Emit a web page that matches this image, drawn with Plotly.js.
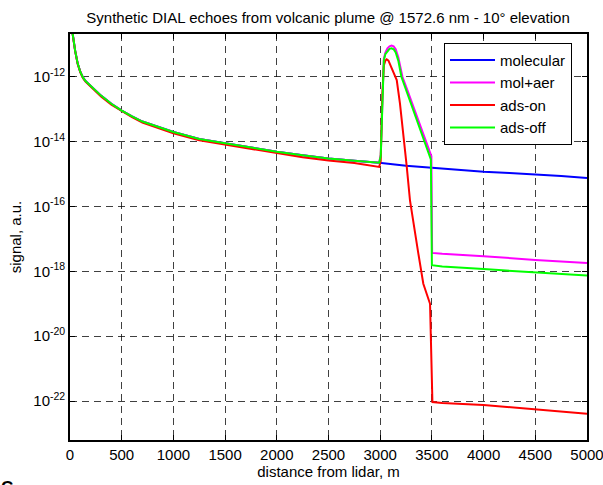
<!DOCTYPE html>
<html>
<head>
<meta charset="utf-8">
<script src="https://cdn.plot.ly/plotly-3.0.1.min.js"></script>
<style>html,body{margin:0;padding:0;background:#fff;overflow:hidden}#chart{width:603px;height:485px}</style>
</head>
<body>
<div id="chart"></div>
<script>
// Distances (m) and log10(signal)
const rNear = [15, 26, 50, 75, 100, 125, 150, 200, 250, 300, 400, 500, 600, 700, 1000, 1250, 1500, 1750, 2000, 2250, 2500, 2750, 2990];
const molNear = [-10.2, -10.68, -11.2, -11.6, -11.85, -12.02, -12.13, -12.29, -12.45, -12.58, -12.83, -13.04, -13.22, -13.38, -13.70, -13.92, -14.05, -14.19, -14.31, -14.42, -14.52, -14.59, -14.65];
const redNear = [-10.2, -10.69, -11.21, -11.61, -11.86, -12.04, -12.15, -12.31, -12.47, -12.61, -12.86, -13.06, -13.24, -13.41, -13.74, -13.96, -14.09, -14.24, -14.36, -14.48, -14.58, -14.66, -14.78];

const rMolFar = [3250, 3500, 3750, 4000, 4250, 4500, 4750, 5000];
const molFar = [-14.74, -14.81, -14.87, -14.93, -14.97, -15.01, -15.06, -15.12];

const rMagPlume = [3005, 3020, 3035, 3050, 3070, 3090, 3110, 3130, 3150, 3175, 3215, 3260, 3300, 3350, 3400, 3445, 3495, 3502, 3600, 4000, 4500, 5000];
const magPlume = [-14.4, -12.5, -11.45, -11.25, -11.12, -11.06, -11.04, -11.06, -11.15, -11.4, -12.0, -12.39, -12.74, -13.17, -13.61, -14.0, -14.45, -17.43, -17.46, -17.53, -17.65, -17.74];

const rOnPlume = [3005, 3020, 3035, 3050, 3063, 3080, 3100, 3127, 3160, 3191, 3220, 3256, 3288, 3330, 3369, 3417, 3482, 3505, 3600, 4000, 4500, 5000];
const onPlume = [-14.6, -12.6, -11.65, -11.5, -11.46, -11.5, -11.65, -11.9, -12.1, -12.82, -13.6, -14.75, -15.81, -16.7, -17.45, -18.38, -19.0, -22.03, -22.06, -22.12, -22.26, -22.39];

const rOffPlume = [3005, 3020, 3035, 3050, 3070, 3090, 3110, 3130, 3150, 3175, 3205, 3250, 3300, 3350, 3400, 3433, 3490, 3500, 3600, 4000, 4500, 5000];
const offPlume = [-14.45, -12.6, -11.5, -11.3, -11.2, -11.14, -11.12, -11.15, -11.25, -11.5, -12.0, -12.4, -12.85, -13.3, -13.72, -14.0, -14.55, -17.81, -17.85, -17.93, -18.04, -18.13];

const seriesNames = ['molecular', 'mol+aer', 'ads-on', 'ads-off'];
const seriesColors = ['#0000ff', '#ff00ff', '#ff0000', '#00ff00'];
const yTickExp = [-22, -20, -18, -16, -14, -12];
const xTicks = [0, 500, 1000, 1500, 2000, 2500, 3000, 3500, 4000, 4500, 5000];

const pw = v => v.map(e => Math.pow(10, e));

const xs = [
  rNear.concat(rMolFar),
  rNear.concat(rMagPlume),
  rNear.concat(rOnPlume),
  rNear.concat(rOffPlume)
];
const ys = [
  molNear.concat(molFar),
  molNear.concat(magPlume),
  redNear.concat(onPlume),
  molNear.concat(offPlume)
];

const font = 'Arial, "Liberation Sans", Helvetica, sans-serif';
const traces = seriesNames.map((n, i) => ({
  type: 'scatter', mode: 'lines', name: n,
  x: xs[i], y: pw(ys[i]),
  line: {color: seriesColors[i], width: 2}
}));

const gridDash = '7px,5px';
const layout = {
  width: 603, height: 485,
  margin: {l: 70, r: 16, t: 34, b: 45},
  paper_bgcolor: '#fff', plot_bgcolor: '#fff',
  font: {family: font, size: 15, color: '#000'},
  title: {text: 'Synthetic DIAL echoes from volcanic plume @ 1572.6 nm - 10° elevation',
          font: {family: font, size: 15, color: '#000'},
          x: 0.544, xanchor: 'center', y: 0.963, yanchor: 'middle'},
  xaxis: {
    range: [0, 5000], tickvals: xTicks, ticktext: xTicks.map(String),
    ticklabeloverflow: 'allow',
    showline: true, linecolor: '#000', linewidth: 1.8, mirror: 'ticks',
    ticks: 'inside', ticklen: 5, tickcolor: '#000',
    showgrid: true, gridcolor: 'rgba(0,0,0,0.75)', gridwidth: 1, griddash: gridDash,
    zeroline: false,
    title: {text: 'distance from lidar, m', font: {family: font, size: 15}, standoff: 4}
  },
  yaxis: {
    type: 'log', range: [-23.2, -10.68],
    tickvals: pw(yTickExp), ticktext: yTickExp.map(e => '10<sup>' + e + '</sup>'),
    ticklabeloverflow: 'allow',
    showline: true, linecolor: '#000', linewidth: 1.8, mirror: 'ticks',
    ticks: 'inside', ticklen: 5, tickcolor: '#000',
    showgrid: true, gridcolor: 'rgba(0,0,0,0.75)', gridwidth: 1, griddash: gridDash,
    zeroline: false,
    title: {text: 'signal, a.u.', font: {family: font, size: 15}, standoff: 8}
  },
  legend: {
    x: 0.7234, y: 0.9786, xanchor: 'left', yanchor: 'top',
    bgcolor: '#fff', bordercolor: '#000', borderwidth: 1,
    font: {family: font, size: 15, color: '#000'},
    itemwidth: 45
  },
  annotations: [{
    text: '<b>C</b>', xref: 'paper', yref: 'paper', x: 0, y: 0,
    xanchor: 'left', yanchor: 'top', xshift: -71, yshift: -36,
    showarrow: false, font: {family: font, size: 17, color: '#000'}
  }],
  showlegend: true
};

Plotly.newPlot('chart', traces, layout, {displayModeBar: false, staticPlot: true});
</script>
</body>
</html>
